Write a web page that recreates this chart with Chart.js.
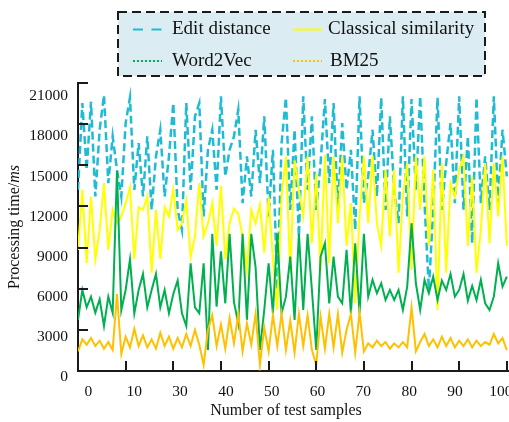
<!DOCTYPE html>
<html>
<head>
<meta charset="utf-8">
<script src="https://cdn.jsdelivr.net/npm/chart.js@4.4.1/dist/chart.umd.min.js"></script>
<style>
  body { margin: 0; background: #fff; }
  #wrap { width: 509px; height: 422px; }
</style>
</head>
<body>
<div id="wrap"><canvas id="chart" width="509" height="422"></canvas></div>
<script>
// --- data ---
const seriesNames = ['Edit distance', 'Classical similarity', 'Word2Vec', 'BM25'];
const xTickLabels = ['0', '10', '30', '40', '50', '60', '70', '80', '90', '100'];
const yTickValues = [0, 3000, 6000, 9000, 12000, 15000, 18000, 21000];

const editDistance = [
  14000, 20500, 15500, 20600, 13500, 18500, 21100, 14500, 18000, 15500,
  13500, 19000, 20900, 14000, 17500, 13500, 18000, 12500, 16500, 18500,
  13500, 16500, 20500, 12500, 11000, 20500, 14000, 19500, 20500, 12000,
  17000, 18500, 14000, 21000, 15000, 17000, 18000, 20000, 13000, 16500,
  13500, 18500, 14500, 19500, 12000, 17000, 6500, 17500, 20900, 12500,
  18500, 10500, 21000, 14000, 19500, 12500, 16000, 20800, 14500, 20500,
  12500, 19000, 14000, 17000, 11000, 21000, 13000, 15000, 18500, 13500,
  20900, 12500, 19500, 14000, 11500, 21000, 12000, 20800, 14000, 21000,
  13000, 6500, 12500, 20900, 12500, 16000, 19000, 13000, 21000, 12500,
  18000, 10000, 20900, 13000, 16500, 12500, 21000, 13000, 18500, 15000
];
const classicalSimilarity = [
  9500, 14000, 8500, 13500, 8800, 11000, 14500, 9500, 12500, 11500,
  12000, 13000, 14200, 8800, 12700, 12500, 13500, 7800, 12500, 8800,
  12700, 12000, 14000, 11000, 11500, 13200, 9000, 10500, 14500, 10500,
  11500, 13000, 9800, 14300, 8800, 11500, 12600, 12200, 10500, 8000,
  12500, 11500, 12900, 9300, 13500, 8800, 5000, 13500, 16500, 7800,
  16200, 14000, 12000, 16500, 10000, 15200, 8000, 16600, 8500, 16500,
  11500, 16500, 9800, 13000, 5500, 12000, 16500, 11500, 16500, 11500,
  9800, 15500, 10500, 15500, 7800, 13500, 16000, 8000, 16500, 12500,
  16500, 9800, 15500, 5000, 16000, 7800, 14500, 13500, 15500, 16500,
  9800, 15000, 7800, 11000, 16000, 10000, 16000, 12000, 16500, 9800
];
const word2Vec = [
  4250, 6500, 5200, 6000, 4800, 5800, 3800, 6000, 4800, 15400,
  5000, 6500, 8800, 4750, 6500, 7700, 5200, 6500, 7700, 5200,
  6500, 4750, 6200, 7200, 4750, 3800, 8500, 5200, 4750, 8500,
  2000, 10700, 5250, 9400, 5500, 10700, 5600, 4000, 10700, 4250,
  10700, 8200, 2000, 5000, 8500, 4750, 10750, 4750, 6000, 9000,
  4250, 10700, 5000, 10700, 6500, 2000, 9000, 10000, 5500, 9000,
  6000, 5500, 9500, 4750, 10000, 4750, 10700, 6000, 7250, 6250,
  7000, 5750, 6500, 5750, 6500, 5000, 6750, 11500, 7000, 5000,
  7250, 6250, 7500, 5750, 7200, 6500, 7700, 6000, 6500, 7700,
  5700, 6800, 5750, 7250, 5500, 5000, 6000, 8500, 6750, 7500
];
const bm25 = [
  1900, 2800, 2400, 2900, 2300, 2700, 2100, 2600, 2000, 6200,
  1700, 3000, 2200, 3600, 2300, 3100, 2200, 2800, 2100, 3300,
  2300, 3000, 2100, 2900, 2200, 3200, 2300, 3500, 2400, 900,
  3500, 4600, 2300, 3900, 2100, 4400, 2500, 4700, 1900, 4000,
  2400, 4700, 900, 3700, 1900, 4600, 2300, 4700, 2000, 4200,
  1800, 4700, 2300, 4600, 2000, 900, 4500, 2100, 4700, 2200,
  4700, 1800, 3500, 4700, 1800, 4800, 1900, 2500, 2200, 2700,
  2300, 2600, 2100, 2500, 2200, 2600, 2200, 5200, 1900, 2600,
  3200, 2300, 2800, 2200, 3000, 2300, 2900, 2200, 2700, 2300,
  2800, 2200, 2700, 2300, 2600, 2400, 3200, 2500, 2900, 2000
];

// sample index for every point
const samples = editDistance.map((_, i) => i);

const serif = "'Liberation Serif', 'Times New Roman', serif";
const seriesColors = ['#1fbbd2', '#ffff00', '#00b050', '#ffc000'];
const legendDash = [[10, 8.5], [], [2, 2], [2, 2]];

function toPoints(values) {
  return values.map((v, i) => ({ x: samples[i], y: v }));
}

// inward tick marks + axis titles (y title has an italic unit)
const axisExtras = {
  id: 'axisExtras',
  afterDatasetsDraw(chart) {
    const { ctx, chartArea: a } = chart;
    const xs = chart.scales.x;
    ctx.save();
    ctx.strokeStyle = '#1a1a1a';
    ctx.lineWidth = 2;
    ctx.beginPath();
    for (let k = 0; k <= 7; k++) {
      const y = Math.round(a.bottom - (a.bottom - a.top) * k / 7);
      ctx.moveTo(a.left, y);
      ctx.lineTo(a.left + 10, y);
    }
    for (let k = 1; k <= 9; k++) {
      const x = Math.round(xs.getPixelForValue((samples.length - 1) * k / 9));
      ctx.moveTo(x, a.bottom);
      ctx.lineTo(x, a.bottom - 10);
    }
    ctx.stroke();

    ctx.fillStyle = '#111';
    ctx.textBaseline = 'middle';
    ctx.font = '16px ' + serif;
    ctx.textAlign = 'center';
    ctx.fillText('Number of test samples', 286, 411);

    // y axis title
    ctx.textAlign = 'left';
    ctx.translate(15, (a.top + a.bottom) / 2);
    ctx.rotate(-Math.PI / 2);
    const part1 = 'Processing time/';
    const part2 = 'ms';
    const w1 = ctx.measureText(part1).width;
    ctx.font = 'italic 16px ' + serif;
    const w2 = ctx.measureText(part2).width;
    const start = -(w1 + w2) / 2;
    ctx.font = '16px ' + serif;
    ctx.fillText(part1, start, 0);
    ctx.font = 'italic 16px ' + serif;
    ctx.fillText(part2, start + w1, 0);
    ctx.restore();
  }
};

// framed legend, two columns
const legendBox = {
  id: 'legendBox',
  afterDraw(chart) {
    const ctx = chart.ctx;
    ctx.save();
    ctx.fillStyle = '#dbedf3';
    ctx.fillRect(118, 12, 367, 64);
    ctx.setLineDash([9, 5]);
    ctx.lineWidth = 2;
    ctx.strokeStyle = '#1a1a1a';
    ctx.strokeRect(118, 12, 367, 64);

    const slots = [[133, 29.5, 172], [293, 29.5, 328], [133, 61, 172], [293, 61, 330]];
    chart.data.datasets.forEach((ds, i) => {
      const [sx, sy, tx] = slots[i];
      ctx.setLineDash(legendDash[i]);
      ctx.strokeStyle = ds.borderColor;
      ctx.lineWidth = 2;
      ctx.beginPath();
      ctx.moveTo(sx, sy);
      ctx.lineTo(sx + 29, sy);
      ctx.stroke();
      ctx.setLineDash([]);
      ctx.fillStyle = '#111';
      ctx.font = '19px ' + serif;
      ctx.textBaseline = 'middle';
      ctx.fillText(ds.label, tx, sy);
    });
    ctx.restore();
  }
};

new Chart(document.getElementById('chart'), {
  type: 'line',
  data: {
    datasets: [
      { label: seriesNames[0], data: toPoints(editDistance), borderColor: seriesColors[0], borderWidth: 2.5, borderDash: [8, 4], order: 4 },
      { label: seriesNames[1], data: toPoints(classicalSimilarity), borderColor: seriesColors[1], borderWidth: 2, order: 3 },
      { label: seriesNames[2], data: toPoints(word2Vec), borderColor: seriesColors[2], borderWidth: 2, order: 2 },
      { label: seriesNames[3], data: toPoints(bm25), borderColor: seriesColors[3], borderWidth: 2, order: 1 }
    ]
  },
  options: {
    responsive: false,
    animation: false,
    devicePixelRatio: 1,
    elements: { point: { radius: 0 }, line: { tension: 0, fill: false } },
    layout: { padding: { top: 83, left: 0, right: 0, bottom: 0 } },
    plugins: { legend: { display: false }, tooltip: { enabled: false } },
    scales: {
      x: {
        type: 'linear',
        min: 0,
        max: samples.length - 0.5,
        afterBuildTicks: (scale) => {
          scale.ticks = xTickLabels.map((_, k) => ({ value: 2.4 + k * 10.58 }));
        },
        afterFit: (scale) => {
          scale.height = 51;
          scale.paddingLeft = 0;
          scale.paddingRight = 0;
        },
        grid: { drawOnChartArea: false, drawTicks: false },
        border: { display: true, color: '#1a1a1a', width: 2 },
        ticks: {
          autoSkip: false,
          maxRotation: 0,
          padding: 12,
          color: '#111',
          font: { family: serif, size: 15.5 },
          callback: (v, i) => xTickLabels[i]
        }
      },
      y: {
        min: 430,
        max: 22000,
        afterBuildTicks: (scale) => {
          scale.ticks = yTickValues.map(v => ({ value: v }));
        },
        afterFit: (scale) => {
          scale.width = 78;
          scale.paddingTop = 0;
          scale.paddingBottom = 0;
        },
        grid: { drawOnChartArea: false, drawTicks: false },
        border: { display: true, color: '#1a1a1a', width: 2 },
        ticks: {
          autoSkip: false,
          padding: 10,
          color: '#111',
          font: { family: serif, size: 15.5 },
          callback: (v) => String(v)
        }
      }
    }
  },
  plugins: [axisExtras, legendBox]
});
</script>
</body>
</html>
